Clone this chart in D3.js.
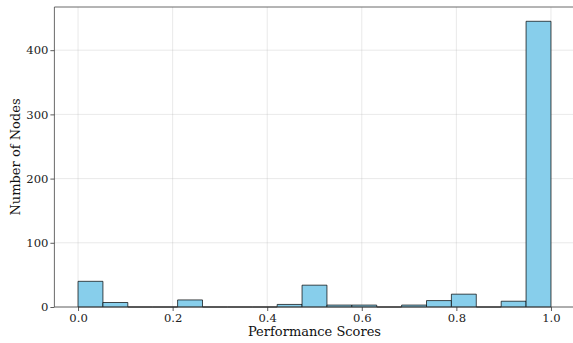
<!DOCTYPE html>
<html>
<head>
<meta charset="utf-8">
<script src="https://cdn.jsdelivr.net/npm/d3@7"></script>
<style>
  html, body { margin: 0; padding: 0; background: #fff; }
  svg { display: block; font-family: "DejaVu Serif", serif; }
</style>
</head>
<body>
<svg id="chart" width="573" height="343"></svg>
<script>
// Histogram of node performance scores: 19 equal-width bins over [0, 1]
const binCount = 19;
const binCounts = [40, 7, 0, 0, 11, 0, 0, 0, 4, 34, 3, 3, 0, 3, 10, 20, 0, 9, 445];
const xTicks = [0, 0.2, 0.4, 0.6, 0.8, 1.0];
const yTicks = [0, 100, 200, 300, 400];
const xLabel = "Performance Scores";
const yLabel = "Number of Nodes";

const svg = d3.select("#chart");
const plot = { left: 54.4, right: 574.6, top: 7, bottom: 307 };

const bins = binCounts.map((c, i) => ({ x0: i / binCount, x1: (i + 1) / binCount, count: c }));

const x = d3.scaleLinear().domain([-0.05, 1.05]).range([plot.left, plot.right]);
const yMax = d3.max(binCounts) * 1.05;
const y = d3.scaleLinear().domain([0, yMax]).range([plot.bottom, plot.top]);

// grid
const grid = svg.append("g");
grid.selectAll("line.vx").data(xTicks).join("line")
  .attr("x1", d => x(d)).attr("x2", d => x(d))
  .attr("y1", plot.top).attr("y2", plot.bottom)
  .attr("stroke", "#b0b0b0").attr("stroke-opacity", 0.35).attr("stroke-width", 0.8);
grid.selectAll("line.hy").data(yTicks).join("line")
  .attr("x1", plot.left).attr("x2", plot.right)
  .attr("y1", d => y(d)).attr("y2", d => y(d))
  .attr("stroke", "#b0b0b0").attr("stroke-opacity", 0.35).attr("stroke-width", 0.8);

// bars as closed paths so empty bins still show their outline on the baseline
svg.append("g").selectAll("path").data(bins).join("path")
  .attr("d", d => {
    const xa = x(d.x0), xb = x(d.x1), y0 = y(0), yt = y(d.count);
    return `M${xa},${y0}L${xa},${yt}L${xb},${yt}L${xb},${y0}Z`;
  })
  .attr("fill", "#87ceeb")
  .attr("stroke", "#000").attr("stroke-opacity", 0.7).attr("stroke-width", 1);

// axes
const xAxis = d3.axisBottom(x).tickValues(xTicks).tickFormat(d3.format(".1f")).tickSizeOuter(0).tickSize(4).tickPadding(2.5);
const yAxis = d3.axisLeft(y).tickValues(yTicks).tickFormat(d3.format("d")).tickSizeOuter(0).tickSize(4).tickPadding(2);

const gx = svg.append("g").attr("transform", `translate(0,${plot.bottom})`).call(xAxis);
const gy = svg.append("g").attr("transform", `translate(${plot.left},0)`).call(yAxis);
[gx, gy].forEach(g => {
  g.select(".domain").remove();
  g.selectAll(".tick line").attr("stroke", "#333").attr("stroke-width", 0.8);
  g.selectAll(".tick text").attr("fill", "#222").style("font-size", "11.6px").style("font-family", "DejaVu Serif, serif");
});

// frame (left, bottom, top spines)
const frame = svg.append("g").attr("stroke", "#444").attr("stroke-width", 0.8);
frame.append("line").attr("x1", plot.left).attr("x2", plot.left).attr("y1", plot.top).attr("y2", plot.bottom);
frame.append("line").attr("x1", plot.left).attr("x2", plot.right).attr("y1", plot.bottom).attr("y2", plot.bottom);
frame.append("line").attr("x1", plot.left).attr("x2", plot.right).attr("y1", plot.top).attr("y2", plot.top);

// axis titles
svg.append("text")
  .attr("x", (plot.left + plot.right) / 2).attr("y", 336)
  .attr("text-anchor", "middle").attr("fill", "#111")
  .style("font-size", "13px").text(xLabel);
svg.append("text")
  .attr("transform", `translate(20,${(plot.top + plot.bottom) / 2}) rotate(-90)`)
  .attr("text-anchor", "middle").attr("fill", "#111")
  .style("font-size", "13px").text(yLabel);
</script>
</body>
</html>
